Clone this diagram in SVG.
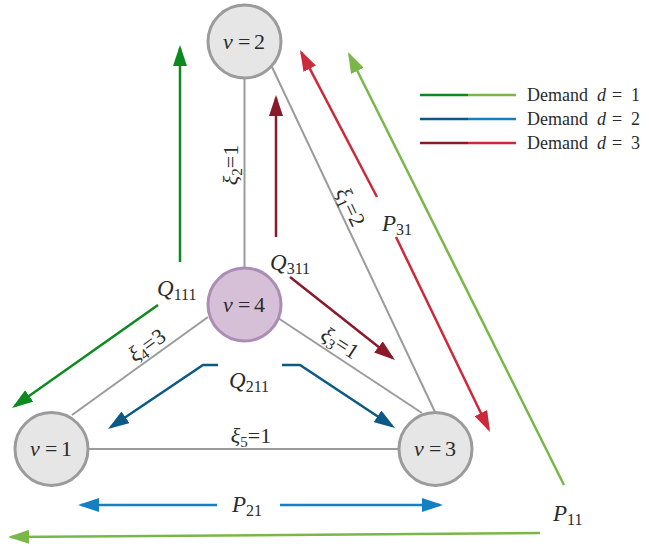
<svg xmlns="http://www.w3.org/2000/svg" width="649" height="546" viewBox="0 0 649 546">
<style>
.edge{stroke:#9b9b9b;stroke-width:2;fill:none}
.node circle{fill:#e6e6e6;stroke:#9b9b9b;stroke-width:3}
#v4 circle{fill:#d5c0d7;stroke:#aa8cb4}
text{font-family:"Liberation Serif","DejaVu Serif",serif;fill:#2b2b2b}
.nl{font-size:22px}
.it{font-style:italic}
.lbl{font-size:23px}
.sub{font-size:16px}
.xi{font-size:22px}
.xs{font-size:15px}
.arr{fill:none;stroke-width:2.5}
.g1{stroke:#0d8a1f}
.g2{stroke:#7ab648}
.b1{stroke:#0b5a86}
.b2{stroke:#1480c3}
.r1{stroke:#891a29}
.r2{stroke:#cc2a3b}
.leg{font-size:18px}
</style>
<defs>
<marker id="mg1" viewBox="0 0 21 14" refX="18" refY="7" markerWidth="21" markerHeight="14" markerUnits="userSpaceOnUse" orient="auto"><path d="M0,0 L21,7 L0,14 z" fill="#0d8a1f"/></marker>
<marker id="mg2" viewBox="0 0 21 14" refX="18" refY="7" markerWidth="21" markerHeight="14" markerUnits="userSpaceOnUse" orient="auto"><path d="M0,0 L21,7 L0,14 z" fill="#7ab648"/></marker>
<marker id="mb1" viewBox="0 0 21 14" refX="18" refY="7" markerWidth="21" markerHeight="14" markerUnits="userSpaceOnUse" orient="auto"><path d="M0,0 L21,7 L0,14 z" fill="#0b5a86"/></marker>
<marker id="mb2" viewBox="0 0 21 14" refX="18" refY="7" markerWidth="21" markerHeight="14" markerUnits="userSpaceOnUse" orient="auto"><path d="M0,0 L21,7 L0,14 z" fill="#1480c3"/></marker>
<marker id="mr1" viewBox="0 0 21 14" refX="18" refY="7" markerWidth="21" markerHeight="14" markerUnits="userSpaceOnUse" orient="auto"><path d="M0,0 L21,7 L0,14 z" fill="#891a29"/></marker>
<marker id="mr2" viewBox="0 0 21 14" refX="18" refY="7" markerWidth="21" markerHeight="14" markerUnits="userSpaceOnUse" orient="auto"><path d="M0,0 L21,7 L0,14 z" fill="#cc2a3b"/></marker>
</defs>

<g id="edges">
<line class="edge" x1="244.5" y1="79" x2="244.5" y2="267"/>
<line class="edge" x1="272" y1="67" x2="435" y2="412"/>
<line class="edge" x1="208" y1="317" x2="72" y2="415"/>
<line class="edge" x1="278" y1="318" x2="422" y2="413"/>
<line class="edge" x1="89" y1="449" x2="398" y2="449"/>
</g>

<g id="edge-labels">
<g transform="translate(238,165) rotate(-90)"><text class="xi" text-anchor="middle"><tspan class="it">ξ</tspan><tspan class="xs" dy="4">2</tspan><tspan dy="-4">=1</tspan></text></g>
<g transform="translate(344,210) rotate(64.7)"><text class="xi" text-anchor="middle"><tspan class="it">ξ</tspan><tspan class="xs" dy="4">1</tspan><tspan dy="-4">=2</tspan></text></g>
<g transform="translate(151,351) rotate(-35.8)"><text class="xi" text-anchor="middle"><tspan class="it">ξ</tspan><tspan class="xs" dy="4">4</tspan><tspan dy="-4">=3</tspan></text></g>
<g transform="translate(336,349) rotate(33.4)"><text class="xi" text-anchor="middle"><tspan class="it">ξ</tspan><tspan class="xs" dy="4">3</tspan><tspan dy="-4">=1</tspan></text></g>
<text class="xi" x="251" y="443" text-anchor="middle"><tspan class="it">ξ</tspan><tspan class="xs" dy="4">5</tspan><tspan dy="-4">=1</tspan></text>
</g>

<g id="connectors">
<line class="arr g1" x1="180" y1="262" x2="180" y2="48" marker-end="url(#mg1)"/>
<line class="arr g1" x1="158" y1="305" x2="14.5" y2="406.3" marker-end="url(#mg1)"/>
<line class="arr r1" x1="276" y1="237" x2="276" y2="98" marker-end="url(#mr1)"/>
<line class="arr r1" x1="290" y1="277" x2="392.6" y2="358.1" marker-end="url(#mr1)"/>
<line class="arr r2" x1="377" y1="197" x2="301.4" y2="52.7" marker-end="url(#mr2)"/>
<line class="arr r2" x1="396" y1="237" x2="488.7" y2="429.3" marker-end="url(#mr2)"/>
<line class="arr g2" x1="564" y1="485" x2="349.3" y2="54.7" marker-end="url(#mg2)"/>
<line class="arr g2" x1="540" y1="533" x2="11" y2="537" marker-end="url(#mg2)"/>
<line class="arr b2" x1="217" y1="505" x2="81" y2="505" marker-end="url(#mb2)"/>
<line class="arr b2" x1="280" y1="505" x2="440" y2="505" marker-end="url(#mb2)"/>
<polyline class="arr b1" points="218,365 203,365 110.5,427.3" marker-end="url(#mb1)"/>
<polyline class="arr b1" points="282,365 300,365 392.5,426.3" marker-end="url(#mb1)"/>
</g>

<g id="connector-labels">
<text class="lbl" x="157" y="296"><tspan class="it">Q</tspan><tspan class="sub" dy="4">111</tspan></text>
<text class="lbl" x="270" y="270"><tspan class="it">Q</tspan><tspan class="sub" dy="4">311</tspan></text>
<text class="lbl" x="229" y="388"><tspan class="it">Q</tspan><tspan class="sub" dy="4">211</tspan></text>
<text class="lbl" x="382" y="231"><tspan class="it">P</tspan><tspan class="sub" dy="4">31</tspan></text>
<text class="lbl" x="232" y="512"><tspan class="it">P</tspan><tspan class="sub" dy="4">21</tspan></text>
<text class="lbl" x="553" y="521"><tspan class="it">P</tspan><tspan class="sub" dy="4">11</tspan></text>
</g>

<g id="v2" class="node"><circle cx="244.5" cy="41.5" r="36.5"/><text class="nl" y="48.5"><tspan class="it" x="223">v</tspan><tspan x="238">=</tspan><tspan x="254">2</tspan></text></g>
<g id="v4" class="node"><circle cx="244.5" cy="304.5" r="36.5"/><text class="nl" y="311.5"><tspan class="it" x="223">v</tspan><tspan x="238">=</tspan><tspan x="254">4</tspan></text></g>
<g id="v1" class="node"><circle cx="51.5" cy="449" r="36.5"/><text class="nl" y="456"><tspan class="it" x="30">v</tspan><tspan x="45">=</tspan><tspan x="61">1</tspan></text></g>
<g id="v3" class="node"><circle cx="435.5" cy="449" r="36.5"/><text class="nl" y="456"><tspan class="it" x="414">v</tspan><tspan x="429">=</tspan><tspan x="445">3</tspan></text></g>

<g id="legend">
<line class="arr g1" x1="420" y1="95" x2="468" y2="95"/><line class="arr g2" x1="468" y1="95" x2="516" y2="95"/>
<line class="arr b1" x1="420" y1="119" x2="468" y2="119"/><line class="arr b2" x1="468" y1="119" x2="516" y2="119"/>
<line class="arr r1" x1="420" y1="143" x2="468" y2="143"/><line class="arr r2" x1="468" y1="143" x2="516" y2="143"/>
<text class="leg" y="101"><tspan x="527">Demand</tspan><tspan class="it" x="597">d</tspan><tspan x="612">=</tspan><tspan x="631">1</tspan></text>
<text class="leg" y="125"><tspan x="527">Demand</tspan><tspan class="it" x="597">d</tspan><tspan x="612">=</tspan><tspan x="631">2</tspan></text>
<text class="leg" y="149"><tspan x="527">Demand</tspan><tspan class="it" x="597">d</tspan><tspan x="612">=</tspan><tspan x="631">3</tspan></text>
</g>
</svg>
